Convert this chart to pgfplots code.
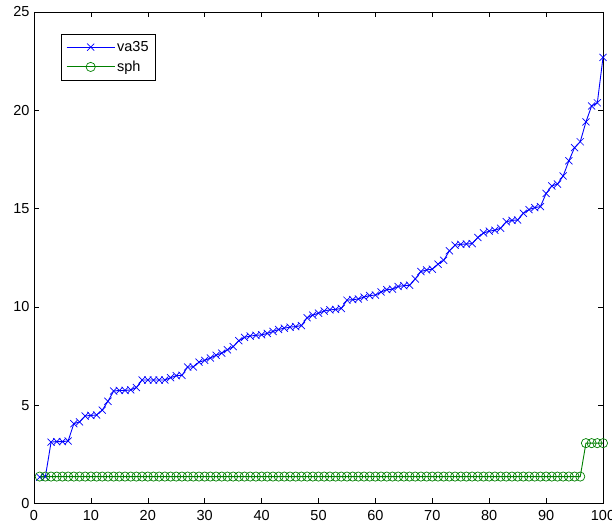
\documentclass[border=0pt]{standalone}
\usepackage{fontspec}
\setmainfont{Liberation Sans}
\usepackage{pgfplots}
\pgfplotsset{compat=1.18}
\definecolor{mgreen}{rgb}{0,0.5,0}
\pgfplotstableread{
x y
1 1.34
2 1.36
3 3.12
4 3.15
5 3.15
6 3.18
7 4.06
8 4.15
9 4.45
10 4.48
11 4.50
12 4.75
13 5.20
14 5.72
15 5.75
16 5.75
17 5.78
18 5.90
19 6.28
20 6.28
21 6.28
22 6.28
23 6.28
24 6.40
25 6.50
26 6.52
27 6.94
28 6.95
29 7.19
30 7.28
31 7.40
32 7.54
33 7.65
34 7.82
35 7.98
36 8.28
37 8.45
38 8.52
39 8.55
40 8.58
41 8.65
42 8.75
43 8.85
44 8.92
45 8.97
46 9.00
47 9.05
48 9.45
49 9.58
50 9.68
51 9.79
52 9.85
53 9.87
54 9.92
55 10.34
56 10.37
57 10.40
58 10.50
59 10.58
60 10.60
61 10.76
62 10.88
63 10.90
64 11.04
65 11.08
66 11.10
67 11.42
68 11.80
69 11.88
70 11.92
71 12.17
72 12.37
73 12.85
74 13.14
75 13.18
76 13.20
77 13.22
78 13.53
79 13.76
80 13.85
81 13.90
82 14.00
83 14.33
84 14.40
85 14.42
86 14.76
87 14.95
88 15.05
89 15.10
90 15.77
91 16.15
92 16.25
93 16.66
94 17.43
95 18.10
96 18.40
97 19.41
98 20.22
99 20.38
100 22.69
}\vathirtyfive
\pgfplotstableread{
x y
1 1.37
2 1.37
3 1.37
4 1.37
5 1.37
6 1.37
7 1.37
8 1.37
9 1.37
10 1.37
11 1.37
12 1.37
13 1.37
14 1.37
15 1.37
16 1.37
17 1.37
18 1.37
19 1.37
20 1.37
21 1.37
22 1.37
23 1.37
24 1.37
25 1.37
26 1.37
27 1.37
28 1.37
29 1.37
30 1.37
31 1.37
32 1.37
33 1.37
34 1.37
35 1.37
36 1.37
37 1.37
38 1.37
39 1.37
40 1.37
41 1.37
42 1.37
43 1.37
44 1.37
45 1.37
46 1.37
47 1.37
48 1.37
49 1.37
50 1.37
51 1.37
52 1.37
53 1.37
54 1.37
55 1.37
56 1.37
57 1.37
58 1.37
59 1.37
60 1.37
61 1.37
62 1.37
63 1.37
64 1.37
65 1.37
66 1.37
67 1.37
68 1.37
69 1.37
70 1.37
71 1.37
72 1.37
73 1.37
74 1.37
75 1.37
76 1.37
77 1.37
78 1.37
79 1.37
80 1.37
81 1.37
82 1.37
83 1.37
84 1.37
85 1.37
86 1.37
87 1.37
88 1.37
89 1.37
90 1.37
91 1.37
92 1.37
93 1.37
94 1.37
95 1.37
96 1.37
97 3.07
98 3.07
99 3.07
100 3.07
}\sph
\begin{document}
\begin{tikzpicture}
\begin{axis}[
  name=ax,
  scale only axis,
  width=569pt, height=491.5pt,
  xmin=0, xmax=100, ymin=0, ymax=25,
  xtick={0,10,...,100}, ytick={0,5,...,25},
  tick align=inside,
  major tick length=5pt,
  axis line style={line width=0.6pt},
  every tick/.style={black, line width=0.6pt},
  font=\fontsize{14.5}{17}\selectfont,
  /pgf/number format/assume math mode=true,
  xticklabel style={yshift=-3pt},
  yticklabel style={xshift=-1pt},
  legend cell align=left,
  legend style={at={(axis description cs:0.0475,0.955)}, anchor=north west,
    inner xsep=5pt, inner ysep=5pt,
    row sep=4pt, font=\fontsize{14.5}{17}\selectfont},
  legend image code/.code={\draw[mark repeat=2,mark phase=2,#1] plot coordinates {(0pt,0pt) (24pt,0pt) (48pt,0pt)};},
]
\addplot[color=blue, line width=0.9pt, mark=x, mark size=5pt, mark options={line width=0.7pt}] table {\vathirtyfive};
\addplot[color=mgreen, line width=0.9pt, mark=o, mark size=4.6pt, mark options={line width=0.7pt}] table {\sph};
\legend{va35,sph}
\end{axis}
\pgfresetboundingbox
\path[use as bounding box] ([xshift=-34pt,yshift=-25pt]ax.south west) rectangle ([xshift=9pt,yshift=12pt]ax.north east);
\end{tikzpicture}
\end{document}
